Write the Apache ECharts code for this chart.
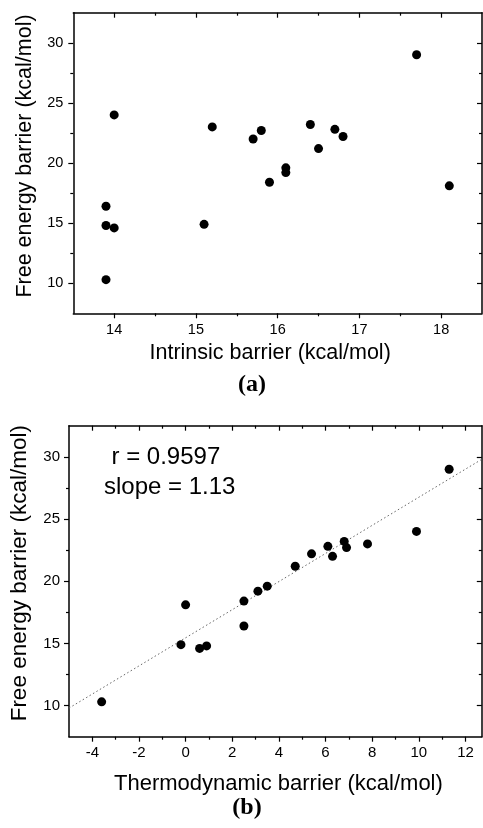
<!DOCTYPE html>
<html>
<head>
<meta charset="utf-8">
<script src="https://cdn.jsdelivr.net/npm/echarts@6/dist/echarts.min.js"></script>
<style>
html,body{margin:0;padding:0;background:#fff;}
#chart{width:483px;height:828px;}
</style>
</head>
<body>
<div id="chart"></div>
<script>
// ---- Data ----
// Panel (a): free energy barrier vs intrinsic barrier
var intrinsicBarrier = [14.0, 15.2, 15.7, 15.8, 15.9, 16.1, 16.1, 16.4, 16.5, 16.7, 16.8, 17.7, 18.1, 13.9, 13.9, 14.0, 15.1, 13.9];
var freeEnergyA      = [24.0, 23.0, 22.0, 22.7, 18.4, 19.6, 19.2, 23.2, 21.2, 22.8, 22.2, 29.0, 18.1, 16.4, 14.8, 14.6, 14.9, 10.3];
// Panel (b): free energy barrier vs thermodynamic barrier
var thermoBarrier    = [11.3, 9.9, 7.8, 6.8, 6.9, 6.1, 6.3, 5.4, 4.7, 3.5, 3.1, 2.5, 0.0, 2.5, -0.2, 0.6, 0.9, -3.6];
var freeEnergyB      = [29.0, 24.0, 23.0, 23.2, 22.7, 22.8, 22.0, 22.2, 21.2, 19.6, 19.2, 18.4, 18.1, 16.4, 14.9, 14.6, 14.8, 10.3];
// Linear fit line end points in panel (b)
var fitX = [-5, 12.7];
var fitY = [9.8, 29.8];
// Tick values
var ticksAxMajor = [14, 15, 16, 17, 18];
var ticksAxMinor = [14.5, 15.5, 16.5, 17.5];
var ticksBxMajor = [-4, -2, 0, 2, 4, 6, 8, 10, 12];
var ticksBxMinor = [-3, -1, 1, 3, 5, 7, 9, 11];
var ticksYMajor  = [10, 15, 20, 25, 30];
var ticksYMinor  = [12.5, 17.5, 22.5, 27.5];
var statsText = ['r = 0.9597', 'slope = 1.13'];

var SANS = '"Liberation Sans", Arial, sans-serif';
var SERIF = '"Liberation Serif", "Times New Roman", serif';

function pairs(xs, ys) { return xs.map(function (x, i) { return [x, ys[i]]; }); }

function makeAxes(kind, gridIndex, min, max, majors, minors, opts) {
  var isX = kind === 'x';
  var mainPos = isX ? 'bottom' : 'left';
  var mirrorPos = isX ? 'top' : 'right';
  var base = {
    type: 'value', gridIndex: gridIndex, min: min, max: max,
    splitLine: { show: false }
  };
  var lineOn = { show: true, onZero: false, lineStyle: { color: '#000', width: 1.5 } };
  var lineOff = { show: false, onZero: false };
  var list = [];
  list.push(Object.assign({}, base, {
    position: mainPos,
    axisLine: lineOn,
    axisTick: { show: true, inside: false, length: 5, customValues: majors, lineStyle: { color: '#000', width: 1.2 } },
    axisLabel: { show: true, customValues: majors, margin: opts.labelMargin, color: '#000', fontFamily: SANS, fontSize: opts.labelSize },
    name: opts.name, nameLocation: 'middle', nameGap: opts.nameGap,
    nameTextStyle: { color: '#000', fontFamily: SANS, fontSize: opts.nameSize, padding: opts.namePadding }
  }));
  list.push(Object.assign({}, base, {
    position: mainPos, axisLine: lineOff,
    axisTick: { show: true, inside: false, length: 3, customValues: minors, lineStyle: { color: '#000', width: 1.2 } },
    axisLabel: { show: false }
  }));
  list.push(Object.assign({}, base, {
    position: mirrorPos, axisLine: lineOn,
    axisTick: { show: true, inside: true, length: 5, customValues: majors, lineStyle: { color: '#000', width: 1.2 } },
    axisLabel: { show: false }
  }));
  list.push(Object.assign({}, base, {
    position: mirrorPos, axisLine: lineOff,
    axisTick: { show: true, inside: true, length: 3, customValues: minors, lineStyle: { color: '#000', width: 1.2 } },
    axisLabel: { show: false }
  }));
  return list;
}

var xAxes = [].concat(
  makeAxes('x', 0, 13.5, 18.5, ticksAxMajor, ticksAxMinor,
    { name: 'Intrinsic barrier (kcal/mol)', nameGap: 29, nameSize: 21.5, namePadding: [0, 15, 0, 0], labelMargin: 9, labelSize: 14.5 }),
  makeAxes('x', 1, -5, 12.7, ticksBxMajor, ticksBxMinor,
    { name: 'Thermodynamic barrier (kcal/mol)', nameGap: 36, nameSize: 22, namePadding: [0, 0, 0, 6], labelMargin: 9, labelSize: 15 })
);
var yAxes = [].concat(
  makeAxes('y', 0, 7.5, 32.5, ticksYMajor, ticksYMinor,
    { name: 'Free energy barrier (kcal/mol)', nameGap: 36, nameSize: 21.5, namePadding: [0, 0, 0, 14], labelMargin: 10, labelSize: 14.5 }),
  makeAxes('y', 1, 7.5, 32.5, ticksYMajor, ticksYMinor,
    { name: 'Free energy barrier (kcal/mol)', nameGap: 38, nameSize: 22.5, namePadding: [0, 0, 0, 16], labelMargin: 9, labelSize: 15 })
);

var option = {
  animation: false,
  backgroundColor: '#fff',
  grid: [
    { left: 73.3, top: 12.7, width: 408.7, height: 300.6, containLabel: false },
    { left: 68.5, top: 425.7, width: 413.3, height: 311, containLabel: false }
  ],
  xAxis: xAxes,
  yAxis: yAxes,
  series: [
    {
      type: 'scatter', xAxisIndex: 0, yAxisIndex: 0,
      symbol: 'circle', symbolSize: 9,
      itemStyle: { color: '#000', opacity: 1 },
      data: pairs(intrinsicBarrier, freeEnergyA)
    },
    {
      type: 'line', xAxisIndex: 4, yAxisIndex: 4,
      symbol: 'none', silent: true,
      lineStyle: { color: '#666', width: 1, type: [1.5, 2.5] },
      data: pairs(fitX, fitY),
      z: 1
    },
    {
      type: 'scatter', xAxisIndex: 4, yAxisIndex: 4,
      symbol: 'circle', symbolSize: 9,
      itemStyle: { color: '#000', opacity: 1 },
      data: pairs(thermoBarrier, freeEnergyB),
      z: 3
    }
  ],
  graphic: [
    { type: 'text', left: 111.5, top: 445, style: { text: statsText[0], fill: '#000', font: '24px ' + SANS } },
    { type: 'text', left: 104, top: 475, style: { text: statsText[1], fill: '#000', font: '24px ' + SANS } },
    { type: 'text', x: 252, y: 385, style: { text: '(a)', fill: '#000', font: 'bold 24px ' + SERIF, align: 'center', verticalAlign: 'middle' } },
    { type: 'text', x: 247, y: 808, style: { text: '(b)', fill: '#000', font: 'bold 24px ' + SERIF, align: 'center', verticalAlign: 'middle' } }
  ]
};

var chart = echarts.init(document.getElementById('chart'), null, { renderer: 'canvas' });
chart.setOption(option);
</script>
</body>
</html>
